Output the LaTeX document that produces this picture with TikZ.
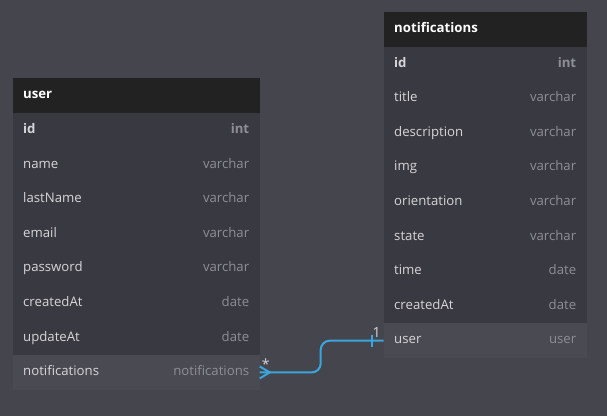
\documentclass[tikz,border=0pt]{standalone}
\usepackage{fontspec}
\setmainfont{Open Sans}
\usetikzlibrary{chains, positioning}
\definecolor{canvas}{HTML}{45454D}
\definecolor{headbg}{HTML}{222222}
\definecolor{rowbg}{HTML}{393941}
\definecolor{refbg}{HTML}{4A4A52}
\definecolor{fieldtext}{HTML}{D6D6D8}
\definecolor{typetext}{HTML}{8E8E94}
\definecolor{relblue}{HTML}{3BA6DD}
\newcommand{\fieldrow}[2]{#1\hfill{\color{typetext}#2}}
\tikzset{
  cell/.style={
    rectangle,
    minimum height=34.6pt,
    text height=9.5pt,
    text depth=3pt,
    inner xsep=10.5pt,
    inner ysep=0pt,
    outer sep=0pt,
    align=left,
    font=\fontsize{13.2}{15}\selectfont
  },
  head/.style={cell, fill=headbg, text=white, font=\fontsize{13.2}{15}\selectfont\bfseries},
  row/.style={cell, fill=rowbg, text=fieldtext},
  pk/.style={row, font=\fontsize{13.2}{15}\selectfont\bfseries},
  ref/.style={cell, fill=refbg, text=fieldtext},
  userw/.style={text width=226pt},
  notifw/.style={text width=182pt},
  rel/.style={line width=2pt, draw=relblue, rounded corners=9pt},
  card/.style={text=fieldtext, inner sep=0pt, font=\fontsize{14}{16}\selectfont}
}
\begin{document}
\begin{tikzpicture}[x=1pt, y=-1pt]
  \fill[canvas] (0,0) rectangle (607,416);
  \useasboundingbox (0,0) rectangle (607,416);
  % user table
  \begin{scope}[start chain=user going below, node distance=0pt, every node/.append style={userw}]
    \node (u-head) [head, on chain, anchor=north west] at (12.7,78.3) {user};
    \node (u-id) [pk, on chain] {\fieldrow{id}{int}};
    \node (u-name) [row, on chain] {\fieldrow{name}{varchar}};
    \node (u-last) [row, on chain] {\fieldrow{lastName}{varchar}};
    \node (u-email) [row, on chain] {\fieldrow{email}{varchar}};
    \node (u-pass) [row, on chain] {\fieldrow{password}{varchar}};
    \node (u-created) [row, on chain] {\fieldrow{createdAt}{date}};
    \node (u-update) [row, on chain] {\fieldrow{updateAt}{date}};
    \node (u-notif) [ref, on chain] {\fieldrow{notifications}{notifications}};
  \end{scope}
  % notifications table
  \begin{scope}[start chain=notif going below, node distance=0pt, every node/.append style={notifw}]
    \node (n-head) [head, on chain, anchor=north west] at (383.7,12) {notifications};
    \node (n-id) [pk, on chain] {\fieldrow{id}{int}};
    \node (n-title) [row, on chain] {\fieldrow{title}{varchar}};
    \node (n-desc) [row, on chain] {\fieldrow{description}{varchar}};
    \node (n-img) [row, on chain] {\fieldrow{img}{varchar}};
    \node (n-orient) [row, on chain] {\fieldrow{orientation}{varchar}};
    \node (n-state) [row, on chain] {\fieldrow{state}{varchar}};
    \node (n-time) [row, on chain] {\fieldrow{time}{date}};
    \node (n-created) [row, on chain] {\fieldrow{createdAt}{date}};
    \node (n-user) [ref, on chain] {\fieldrow{user}{user}};
  \end{scope}
  % relation
  \draw[rel] (u-notif.east) -- ++(61,0) |- (n-user.west);
  \coordinate (foot) at ([xshift=10pt]u-notif.east);
  \draw[rel, rounded corners=0pt] ([yshift=6pt]u-notif.east) -- (foot) -- ([yshift=-6pt]u-notif.east);
  \draw[rel, rounded corners=0pt] ([xshift=-12pt,yshift=6pt]n-user.west) -- ([xshift=-12pt,yshift=-6pt]n-user.west);
  \node (many) [card, anchor=south west] at ([xshift=2pt,yshift=3pt]u-notif.east) {*};
  \node (one) [card, anchor=south east] at ([xshift=-3pt,yshift=3pt]n-user.west) {1};
\end{tikzpicture}
\end{document}
